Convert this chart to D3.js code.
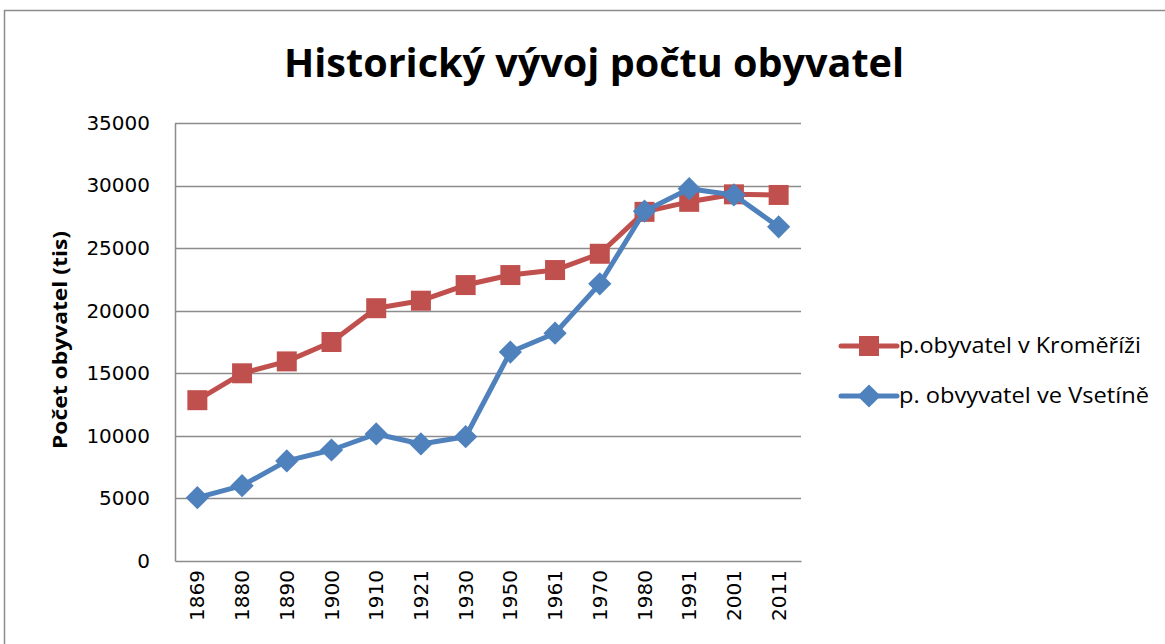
<!DOCTYPE html>
<html>
<head>
<meta charset="utf-8">
<script src="https://cdn.jsdelivr.net/npm/d3@7"></script>
<style>
  body { margin: 0; background: #fff; }
  svg text { font-family: "Open Sans", "Liberation Sans", sans-serif; fill: #000; }
</style>
</head>
<body>
<svg id="chart"></svg>
<script>
const YEARS = ["1869", "1880", "1890", "1900", "1910", "1921", "1930", "1950", "1961", "1970", "1980", "1991", "2001", "2011"];
const KROMERIZ = [12850, 15000, 15950, 17500, 20200, 20800, 22050, 22850, 23250, 24550, 27900, 28700, 29300, 29250];
const VSETIN = [5060, 6020, 8000, 8870, 10150, 9350, 9930, 16700, 18200, 22150, 27950, 29750, 29250, 26700];
const Y_TICKS = [0, 5000, 10000, 15000, 20000, 25000, 30000, 35000];
const SERIES_NAMES = ["p.obyvatel v Kroměříži", "p. obvyvatel ve Vsetíně"];

const width = 1165, height = 644;
const margin = { top: 123, right: 364, bottom: 83, left: 175 };
const innerW = width - margin.left - margin.right;
const innerH = height - margin.top - margin.bottom;

const svg = d3.select("#chart").attr("width", width).attr("height", height);

// outer chart frame (runs off the right and bottom edge like the source)
svg.append("rect")
  .attr("x", 4.5).attr("y", 10.5)
  .attr("width", width + 20).attr("height", height + 20)
  .attr("fill", "none").attr("stroke", "#8c8c8c").attr("stroke-width", 1.5);

svg.append("text")
  .attr("x", 594).attr("y", 77)
  .attr("text-anchor", "middle")
  .style("font-size", "39px").style("font-weight", "bold")
  .attr("textLength", 620).attr("lengthAdjust", "spacingAndGlyphs")
  .text("Historický vývoj počtu obyvatel");

const chart = svg.append("g").attr("transform", `translate(${margin.left},${margin.top})`);

const x = d3.scaleBand().domain(YEARS).range([0, innerW]);
const y = d3.scaleLinear().domain([0, 35000]).range([innerH, 0]);

// gridlines
chart.append("g").selectAll("line")
  .data(Y_TICKS.filter(d => d > 0))
  .join("line")
  .attr("x1", 0).attr("x2", innerW)
  .attr("y1", d => Math.round(y(d)) + 0.5).attr("y2", d => Math.round(y(d)) + 0.5)
  .attr("stroke", "#8c8c8c").attr("stroke-width", 1.5);

// axes
const yAxisG = chart.append("g")
  .call(d3.axisLeft(y).tickValues(Y_TICKS).tickSize(0).tickPadding(25).tickFormat(d3.format("d")));
yAxisG.select(".domain").attr("stroke", "#8c8c8c").attr("stroke-width", 1.5);
yAxisG.selectAll("text").style("font-size", "20px").style("font-family", "'DejaVu Sans', sans-serif");

const xAxisG = chart.append("g")
  .attr("transform", `translate(0,${innerH})`)
  .call(d3.axisBottom(x).tickSize(0).tickSizeOuter(0));
xAxisG.select(".domain").attr("stroke", "#8c8c8c").attr("stroke-width", 1.5);
xAxisG.selectAll("text")
  .style("font-size", "20px").style("font-family", "'DejaVu Sans', sans-serif")
  .attr("transform", "rotate(-90)")
  .attr("x", -9).attr("y", 0).attr("dy", "0.35em")
  .style("text-anchor", "end");

// y-axis title
svg.append("text")
  .attr("transform", "translate(67,340) rotate(-90)")
  .attr("text-anchor", "middle")
  .style("font-size", "20px").style("font-weight", "bold")
  .attr("textLength", 218).attr("lengthAdjust", "spacingAndGlyphs")
  .text("Počet obyvatel (tis)");

const cx = d => x(d) + x.bandwidth() / 2;
const line = d3.line().x((d, i) => cx(YEARS[i])).y(d => y(d));

const RED = "#C0504D", BLUE = "#4F81BD";
const square = d3.symbol().type(d3.symbolSquare).size(400);
const diamond = d3.symbol().type(d3.symbolSquare).size(270);

function drawSeries(values, color, shape, rot) {
  chart.append("path")
    .datum(values)
    .attr("fill", "none").attr("stroke", color).attr("stroke-width", 5)
    .attr("stroke-linejoin", "round")
    .attr("d", line);
  chart.append("g").selectAll("path")
    .data(values)
    .join("path")
    .attr("d", shape)
    .attr("fill", color)
    .attr("transform", (d, i) => `translate(${cx(YEARS[i])},${y(d)}) rotate(${rot})`);
}

drawSeries(KROMERIZ, RED, square, 0);
drawSeries(VSETIN, BLUE, diamond, 45);

// legend
const legend = svg.append("g");
const legendItems = [
  { name: SERIES_NAMES[0], color: RED, shape: square, rot: 0, y: 346, len: 242 },
  { name: SERIES_NAMES[1], color: BLUE, shape: diamond, rot: 45, y: 396, len: 250 },
];
legendItems.forEach(item => {
  legend.append("line")
    .attr("x1", 841).attr("x2", 897).attr("y1", item.y).attr("y2", item.y)
    .attr("stroke", item.color).attr("stroke-width", 5).attr("stroke-linecap", "round");
  legend.append("path")
    .attr("d", item.shape)
    .attr("fill", item.color)
    .attr("transform", `translate(869,${item.y}) rotate(${item.rot})`);
  legend.append("text")
    .attr("x", 899).attr("y", item.y).attr("dy", "0.35em")
    .style("font-size", "21px")
    .attr("textLength", item.len).attr("lengthAdjust", "spacingAndGlyphs")
    .text(item.name);
});
</script>
</body>
</html>
